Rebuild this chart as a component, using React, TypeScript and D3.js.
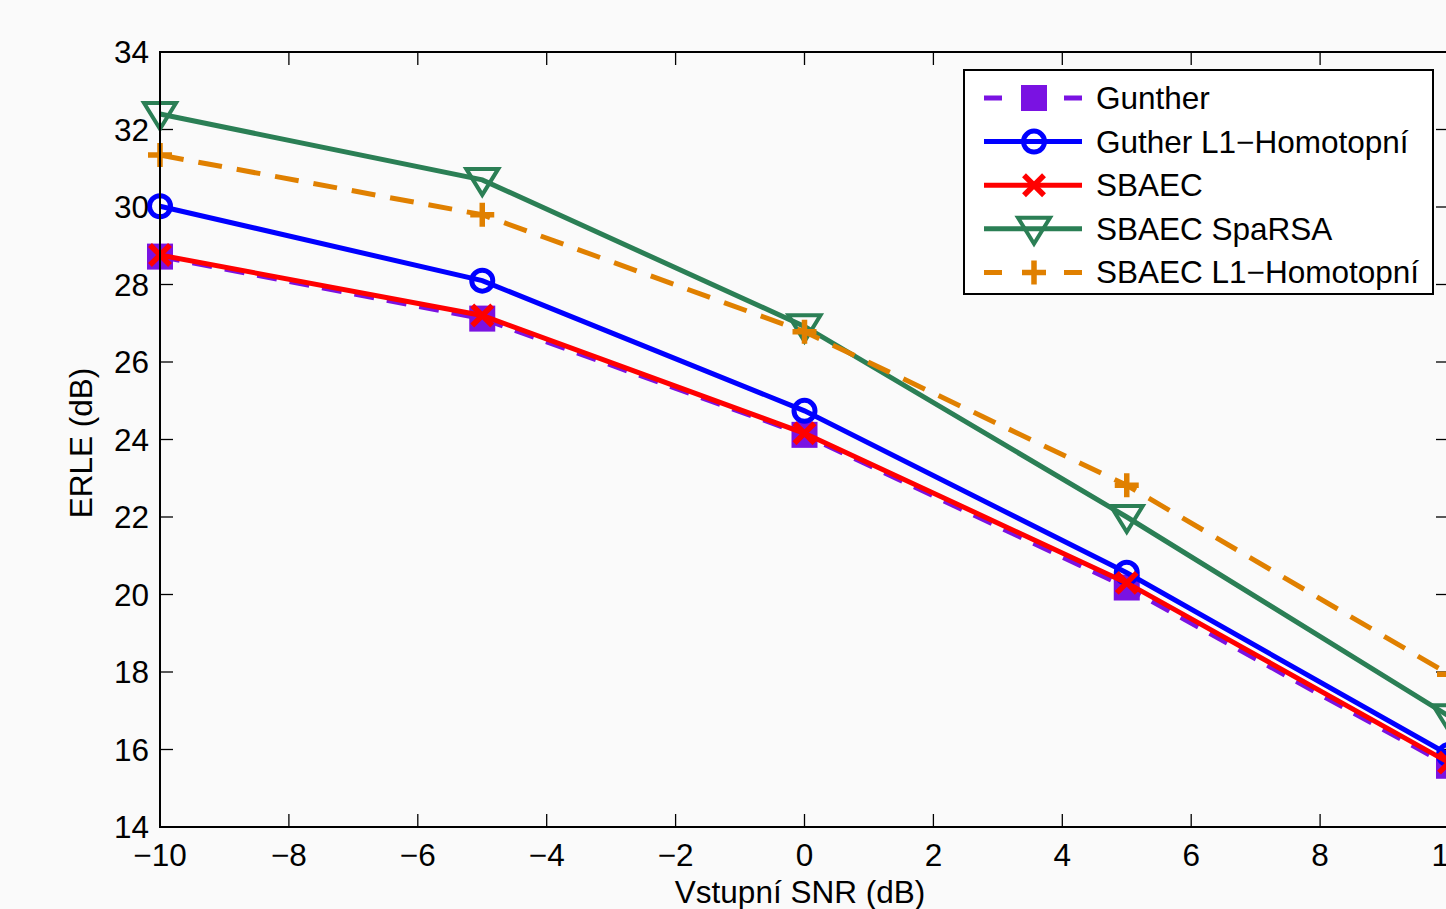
import React from 'react';
import * as d3 from 'd3';

const snr = [-10, -5, 0, 5, 10];
const gunther = [28.72, 27.12, 24.12, 20.18, 15.58];
const gutherL1 = [30.02, 28.1, 24.74, 20.56, 15.86];
const sbaec = [28.76, 27.2, 24.16, 20.3, 15.66];
const sbaecSparsa = [32.4, 30.7, 26.92, 22.0, 16.86];
const sbaecL1 = [31.34, 29.8, 26.78, 22.82, 17.94];

const xTicks = [-10, -8, -6, -4, -2, 0, 2, 4, 6, 8, 10];
const yTicks = [14, 16, 18, 20, 22, 24, 26, 28, 30, 32, 34];

type Series = {
  name: string;
  values: number[];
  color: string;
  dash?: string;
  marker: 'square' | 'circle' | 'x' | 'tri' | 'plus';
};

const series: Series[] = [
  { name: 'Gunther', values: gunther, color: '#7a12e2', dash: '20,13', marker: 'square' },
  { name: 'Guther L1\u2212Homotopní', values: gutherL1, color: '#0000ff', marker: 'circle' },
  { name: 'SBAEC', values: sbaec, color: '#ff0000', marker: 'x' },
  { name: 'SBAEC SpaRSA', values: sbaecSparsa, color: '#2b7f55', marker: 'tri' },
  { name: 'SBAEC L1\u2212Homotopní', values: sbaecL1, color: '#e08000', dash: '24,15', marker: 'plus' },
];

const W = 1446;
const H = 909;
const left = 160;
const right = 1449;
const top = 52;
const bottom = 827;
const font = 'Liberation Sans, Arial, Helvetica, sans-serif';
const fs = 31.5;

function Marker({ kind, x, y, color }: { kind: Series['marker']; x: number; y: number; color: string }) {
  switch (kind) {
    case 'square':
      return <rect x={x - 13} y={y - 13} width={26} height={26} fill={color} />;
    case 'circle':
      return <circle cx={x} cy={y} r={10.5} fill="none" stroke={color} strokeWidth={5} />;
    case 'x':
      return (
        <path d={`M${x - 10},${y - 10}L${x + 10},${y + 10}M${x - 10},${y + 10}L${x + 10},${y - 10}`} stroke={color} strokeWidth={5.5} />
      );
    case 'tri':
      return (
        <path d={`M${x - 16},${y - 11}L${x + 16},${y - 11}L${x},${y + 15}Z`} fill="none" stroke={color} strokeWidth={4} strokeLinejoin="miter" />
      );
    case 'plus':
      return <path d={`M${x - 12},${y}L${x + 12},${y}M${x},${y - 12}L${x},${y + 12}`} stroke={color} strokeWidth={5.5} />;
  }
}

export default function App() {
  const x = d3.scaleLinear().domain([-10, 10]).range([left, right]);
  const y = d3.scaleLinear().domain([14, 34]).range([bottom, top]);
  const line = d3
    .line<number>()
    .x((_, i) => x(snr[i]))
    .y((d) => y(d));

  const legX = 964;
  const legY = 70;
  const legW = 469;
  const legH = 224;
  const rowH = 43.6;

  return (
    <svg
      width={W}
      height={H}
      style={{ position: 'absolute', left: 0, top: 0, background: '#fafafa' }}
      fontFamily={font}
    >
      <rect x={0} y={0} width={W} height={H} fill="#fafafa" />

      {/* ticks */}
      <g stroke="#000" strokeWidth={1.3}>
        {xTicks.map((t) => (
          <g key={'x' + t}>
            <line x1={x(t)} x2={x(t)} y1={bottom} y2={bottom - 13} />
            <line x1={x(t)} x2={x(t)} y1={top} y2={top + 13} />
          </g>
        ))}
        {yTicks.map((t) => (
          <g key={'y' + t}>
            <line x1={left} x2={left + 13} y1={y(t)} y2={y(t)} />
            <line x1={right} x2={right - 13} y1={y(t)} y2={y(t)} />
          </g>
        ))}
      </g>

      {/* series */}
      {series.map((s) => (
        <g key={s.name}>
          <path d={line(s.values) || ''} fill="none" stroke={s.color} strokeWidth={5} strokeDasharray={s.dash} />
          {s.values.map((v, i) => (
            <Marker key={i} kind={s.marker} x={x(snr[i])} y={y(v)} color={s.color} />
          ))}
        </g>
      ))}

      {/* axes box */}
      <rect x={left} y={top} width={right - left} height={bottom - top} fill="none" stroke="#000" strokeWidth={2} />

      {/* tick labels */}
      <g fontSize={fs} fill="#000">
        {xTicks.map((t) => (
          <text key={'xl' + t} x={x(t)} y={866} textAnchor="middle">
            {t < 0 ? '\u2212' + Math.abs(t) : t}
          </text>
        ))}
        {yTicks.map((t) => (
          <text key={'yl' + t} x={149} y={y(t) + 11} textAnchor="end">
            {t}
          </text>
        ))}
      </g>

      <text x={800} y={903} fontSize={fs} textAnchor="middle">
        Vstupní SNR (dB)
      </text>
      <text transform="translate(92,443) rotate(-90)" fontSize={fs} textAnchor="middle">
        ERLE (dB)
      </text>

      {/* legend */}
      <rect x={legX} y={legY} width={legW} height={legH} fill="#fff" stroke="#000" strokeWidth={2} />
      {series.map((s, i) => {
        const cy = legY + 28 + i * rowH;
        return (
          <g key={'leg' + s.name}>
            <line x1={984} x2={1082} y1={cy} y2={cy} stroke={s.color} strokeWidth={5} strokeDasharray={s.dash ? '18,22' : undefined} />
            <Marker kind={s.marker} x={1034} y={cy} color={s.color} />
            <text x={1096} y={cy + 11} fontSize={fs}>
              {s.name}
            </text>
          </g>
        );
      })}
    </svg>
  );
}
